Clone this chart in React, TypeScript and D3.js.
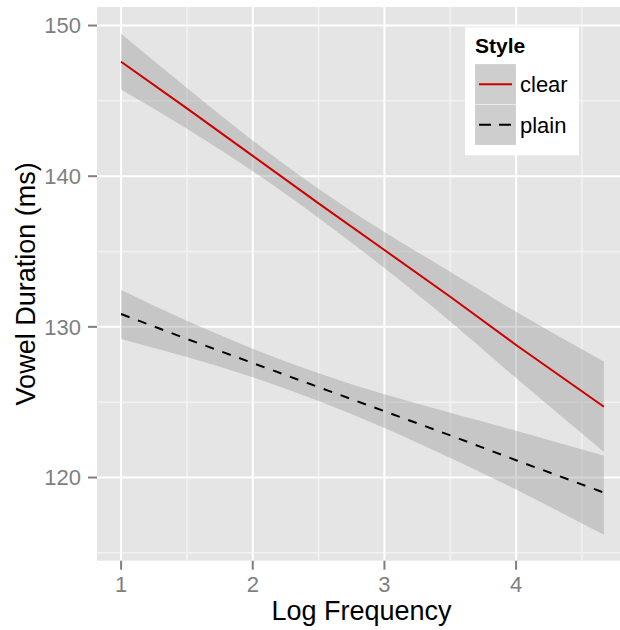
import React from "react";
import * as d3 from "d3";

const xs = [1, 1.5, 2, 2.5, 3, 3.5, 4, 4.667];
const clearFit = [147.6, 144.5, 141.35, 138.2, 135.1, 132.0, 128.8, 124.7];
const clearLower = [145.75, 143.15, 140.33, 137.23, 133.9, 130.35, 126.6, 121.7];
const clearUpper = [149.45, 145.85, 142.37, 139.17, 136.3, 133.65, 131.0, 127.7];
const plainFit = [130.85, 129.2, 127.6, 126.0, 124.4, 122.8, 121.15, 119.0];
const plainLower = [129.2, 128.0, 126.65, 125.08, 123.28, 121.3, 119.2, 116.2];
const plainUpper = [132.45, 130.4, 128.55, 126.92, 125.52, 124.3, 123.1, 121.45];

const xTicks = [1, 2, 3, 4];
const xMinor = [1.5, 2.5, 3.5, 4.5];
const yTicks = [120, 130, 140, 150];
const yMinor = [115, 125, 135, 145];
const legendTitle = "Style";
const styles = ["clear", "plain"];

const W = 620;
const H = 630;
const panel = { left: 97, top: 7, right: 628, bottom: 560.7 };
const font = "'Liberation Sans', Arial, Helvetica, sans-serif";

export default function App() {
  const x = d3.scaleLinear().domain([0.817, 4.85]).range([panel.left, panel.right]);
  const y = d3.scaleLinear().domain([114.48, 151.23]).range([panel.bottom, panel.top]);

  const area = (lo: number[], hi: number[]) =>
    d3
      .area<number>()
      .x((_, i) => x(xs[i]))
      .y0((_, i) => y(lo[i]))
      .y1((_, i) => y(hi[i]))
      .curve(d3.curveNatural)(xs) as string;
  const line = (v: number[]) =>
    d3
      .line<number>()
      .x((_, i) => x(xs[i]))
      .y((_, i) => y(v[i]))(xs) as string;

  const lx = 465, ly = 27.3, lw = 114, lh = 128;
  const keyX = 475, keyW = 41, keyH = 40.5;
  const keyY = [64, 104.5];

  return (
    <svg
      width={W}
      height={H}
      style={{ position: "absolute", left: 0, top: 0 }}
      fontFamily={font}
    >
      <rect x={0} y={0} width={W} height={H} fill="#ffffff" />
      <rect
        x={panel.left}
        y={panel.top}
        width={panel.right - panel.left}
        height={panel.bottom - panel.top}
        fill="#E5E5E5"
      />
      {xMinor.map((t) => (
        <line key={"xm" + t} x1={x(t)} x2={x(t)} y1={panel.top} y2={panel.bottom} stroke="#F2F2F2" strokeWidth={1.5} />
      ))}
      {yMinor.map((t) => (
        <line key={"ym" + t} x1={panel.left} x2={panel.right} y1={y(t)} y2={y(t)} stroke="#F2F2F2" strokeWidth={1.5} />
      ))}
      {xTicks.map((t) => (
        <line key={"xg" + t} x1={x(t)} x2={x(t)} y1={panel.top} y2={panel.bottom} stroke="#ffffff" strokeWidth={2} />
      ))}
      {yTicks.map((t) => (
        <line key={"yg" + t} x1={panel.left} x2={panel.right} y1={y(t)} y2={y(t)} stroke="#ffffff" strokeWidth={2} />
      ))}

      <path d={area(clearLower, clearUpper)} fill="#999999" fillOpacity={0.4} />
      <path d={area(plainLower, plainUpper)} fill="#999999" fillOpacity={0.4} />
      <path d={line(clearFit)} fill="none" stroke="#CC0000" strokeWidth={2} />
      <path d={line(plainFit)} fill="none" stroke="#000000" strokeWidth={2} strokeDasharray="9,9" />

      {yTicks.map((t) => (
        <g key={"yt" + t}>
          <line x1={panel.left - 9} x2={panel.left} y1={y(t)} y2={y(t)} stroke="#7F7F7F" strokeWidth={2} />
          <text x={panel.left - 16} y={y(t)} dy="0.36em" textAnchor="end" fontSize={22} fill="#7F7F7F">
            {t}
          </text>
        </g>
      ))}
      {xTicks.map((t) => (
        <g key={"xt" + t}>
          <line x1={x(t)} x2={x(t)} y1={panel.bottom} y2={panel.bottom + 9} stroke="#7F7F7F" strokeWidth={2} />
          <text x={x(t)} y={592} textAnchor="middle" fontSize={22} fill="#7F7F7F">
            {t}
          </text>
        </g>
      ))}

      <text x={(97 + 620) / 2 + 3} y={620} textAnchor="middle" fontSize={27} fill="#000">
        Log Frequency
      </text>
      <text
        transform={`translate(35,${(panel.top + panel.bottom) / 2}) rotate(-90)`}
        textAnchor="middle"
        fontSize={27}
        fill="#000"
      >
        Vowel Duration (ms)
      </text>

      <rect x={lx} y={ly} width={lw} height={lh} fill="#ffffff" />
      <text x={475} y={53.3} fontSize={21} fontWeight="bold" fill="#000">
        {legendTitle}
      </text>
      {styles.map((s, i) => (
        <g key={s}>
          <rect x={keyX} y={keyY[i]} width={keyW} height={keyH} fill="#F2F2F2" stroke="#ffffff" strokeWidth={1} />
          <rect x={keyX} y={keyY[i]} width={keyW} height={keyH} fill="#999999" fillOpacity={0.4} />
          <line
            x1={keyX + 4}
            x2={keyX + keyW - 4}
            y1={keyY[i] + keyH / 2}
            y2={keyY[i] + keyH / 2}
            stroke={i === 0 ? "#CC0000" : "#000000"}
            strokeWidth={2}
            strokeDasharray={i === 0 ? undefined : "12,8"}
          />
          <text x={520} y={keyY[i] + keyH / 2 + 8} fontSize={22} fill="#000">
            {s}
          </text>
        </g>
      ))}
    </svg>
  );
}
